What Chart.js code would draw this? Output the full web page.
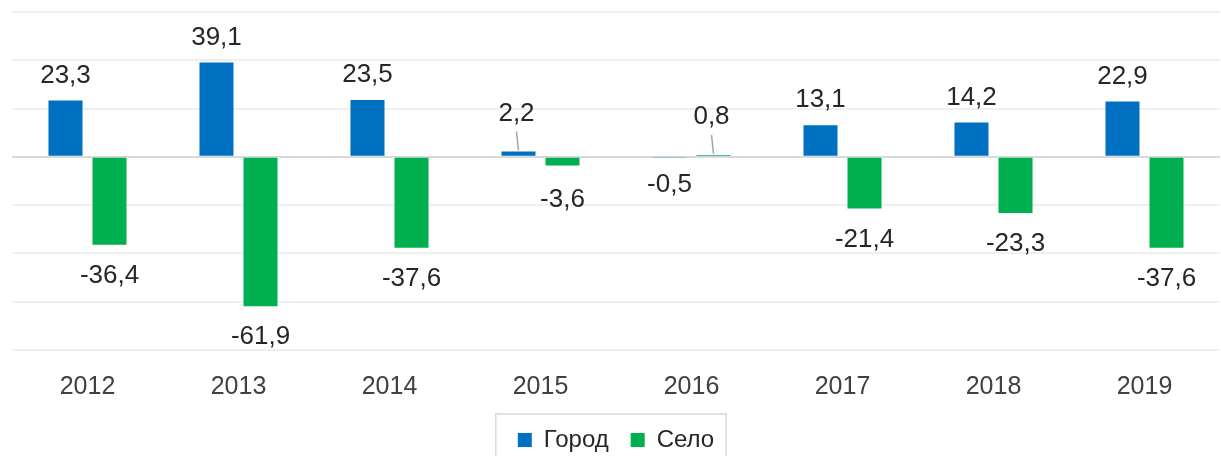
<!DOCTYPE html>
<html>
<head>
<meta charset="utf-8">
<script src="https://cdn.jsdelivr.net/npm/chart.js@4/dist/chart.umd.min.js"></script>
<style>
html,body{margin:0;padding:0;background:#fff;}
#wrap{width:1221px;height:456px;position:relative;}
</style>
</head>
<body>
<div id="wrap"><canvas id="c"></canvas></div>
<script>
const categories = ['2012','2013','2014','2015','2016','2017','2018','2019'];
const cityValues = [23.3, 39.1, 23.5, 2.2, -0.5, 13.1, 14.2, 22.9];
const villageValues = [-36.4, -61.9, -37.6, -3.6, 0.8, -21.4, -23.3, -37.6];
const seriesNames = ['Город', 'Село'];

const FONT = '"Liberation Sans", Arial, sans-serif';

const fmt = v => v.toFixed(1).replace('.', ',');

const labelPlugin = {
  id: 'valueLabels',
  afterDatasetsDraw(chart) {
    const ctx = chart.ctx;
    ctx.save();
    ctx.font = '26px ' + FONT;
    ctx.fillStyle = '#262626';
    ctx.textAlign = 'center';
    ctx.textBaseline = 'middle';
    chart.data.datasets.forEach((ds, i) => {
      const meta = chart.getDatasetMeta(i);
      meta.data.forEach((bar, j) => {
        const v = ds.data[j];
        let y;
        let x = bar.x;
        if (v >= 0) {
          if (v < 3) {
            y = bar.y - 38;
            ctx.strokeStyle = '#a6a6a6';
            ctx.lineWidth = 1.5;
            ctx.beginPath();
            ctx.moveTo(bar.x - 2, bar.y - 20);
            ctx.lineTo(bar.x, bar.y - 1);
            ctx.stroke();
            x = bar.x - 2;
          } else {
            y = bar.y - 25;
          }
        } else {
          y = bar.y + (v > -1 ? 27 : (v > -5 ? 34 : 31));
        }
        ctx.fillText(fmt(v), x, y);
      });
    });
    ctx.restore();
  }
};

const legendBorder = {
  id: 'legendBorder',
  afterDraw(chart) {
    const lg = chart.legend;
    if (!lg || !lg.legendHitBoxes || !lg.legendHitBoxes.length) return;
    const hb = lg.legendHitBoxes;
    const left = Math.min(...hb.map(h => h.left)) - 22;
    const right = Math.max(...hb.map(h => h.left + h.width)) + 12;
    const top = Math.min(...hb.map(h => h.top)) - 14;
    const ctx = chart.ctx;
    ctx.save();
    ctx.strokeStyle = '#d9d9d9';
    ctx.lineWidth = 1.5;
    ctx.strokeRect(left, top, right - left, 60);
    ctx.restore();
  }
};

new Chart(document.getElementById('c'), {
  type: 'bar',
  data: {
    labels: categories,
    datasets: [
      { label: seriesNames[0], data: cityValues, backgroundColor: '#0070C0', borderWidth: 0 },
      { label: seriesNames[1], data: villageValues, backgroundColor: '#00B050', borderWidth: 0 }
    ]
  },
  options: {
    responsive: true,
    maintainAspectRatio: false,
    animation: false,
    categoryPercentage: 0.583,
    barPercentage: 0.773,
    layout: { padding: { top: 12, left: 12, right: 1, bottom: -6 } },
    plugins: {
      tooltip: { enabled: false },
      legend: {
        position: 'bottom',
        title: { display: true, text: '', font: { size: 1, lineHeight: 1 }, padding: { top: -19, bottom: 0 } },
        labels: {
          boxWidth: 14,
          boxHeight: 14,
          padding: 22,
          color: '#262626',
          font: { family: FONT, size: 24 }
        }
      }
    },
    scales: {
      x: {
        grid: { display: false, drawTicks: false },
        border: { display: false },
        ticks: { color: '#404040', font: { family: FONT, size: 25 }, padding: 22 }
      },
      y: {
        min: -80,
        max: 60,
        ticks: { display: false, stepSize: 20 },
        grid: {
          drawTicks: false,
          lineWidth: 2,
          color: c => c.tick && c.tick.value === 0 ? '#d9d9d9' : '#efefef'
        },
        border: { display: false }
      }
    }
  },
  plugins: [labelPlugin, legendBorder]
});
</script>
</body>
</html>
